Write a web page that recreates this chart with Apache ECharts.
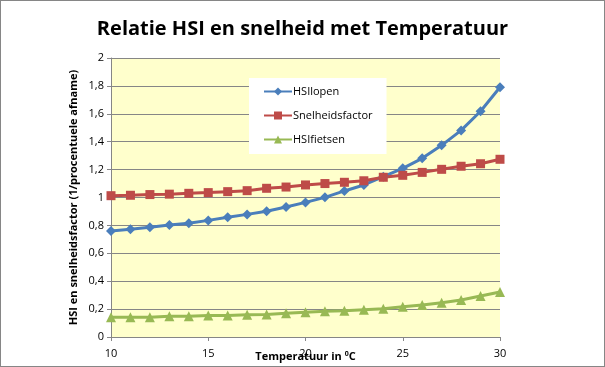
<!DOCTYPE html>
<html><head><meta charset="utf-8">
<script src="https://cdn.jsdelivr.net/npm/echarts@6/dist/echarts.min.js"></script>
<style>html,body{margin:0;padding:0;background:#fff}#c{width:605px;height:367px;box-sizing:border-box;border:1px solid #868686}</style>
</head><body><div id="c"></div>
<script>
const temps = [10,11,12,13,14,15,16,17,18,19,20,21,22,23,24,25,26,27,28,29,30];
const hsiLopen = [0.76,0.772,0.786,0.803,0.815,0.836,0.858,0.879,0.901,0.932,0.965,1.001,1.047,1.09,1.149,1.209,1.281,1.374,1.481,1.618,1.79];
const snelheidsfactor = [1.013,1.016,1.021,1.024,1.030,1.035,1.042,1.049,1.066,1.075,1.09,1.10,1.109,1.12,1.145,1.159,1.18,1.202,1.224,1.242,1.274];
const hsiFietsen = [0.141,0.141,0.141,0.148,0.148,0.155,0.155,0.16,0.162,0.17,0.177,0.184,0.189,0.196,0.203,0.217,0.229,0.246,0.265,0.294,0.323];
const seriesNames = ['HSIlopen','Snelheidsfactor','HSIfietsen'];
const yTicks = [0,0.2,0.4,0.6,0.8,1,1.2,1.4,1.6,1.8,2];

const pair = arr => temps.map((t,i)=>[t,arr[i]]);
const fmt = v => String(Math.round(v*10)/10).replace('.', ',');
const chart = echarts.init(document.getElementById('c'), null, {renderer:'canvas'});
const font = 'Open Sans';
chart.setOption({
  animation:false,
  title:{text:'Relatie HSI en snelheid met Temperatuur', left:'center', top:13,
    textStyle:{fontFamily:font,fontSize:20,fontWeight:'bold',color:'#000'}},
  grid:{left:110,right:104,top:57,bottom:29,show:true,backgroundColor:'#FFFFCC',borderWidth:0,
    outerBoundsMode:'none',containLabel:false},
  legend:{orient:'vertical',left:248,top:77,width:143,height:71,backgroundColor:'#fff',
    padding:[8,14,9,14],itemGap:13,itemWidth:28,itemHeight:10,
    textStyle:{fontFamily:font,fontSize:11,color:'#000',padding:[0,0,0,-4]},
    data:seriesNames},
  xAxis:{type:'value',min:10,max:30,interval:5,
    name:'Temperatuur in {s|0}C',nameLocation:'middle',nameGap:13,nameMoveOverlap:false,
    nameTextStyle:{fontFamily:font,fontSize:11,fontWeight:'bold',color:'#000',
      rich:{s:{fontSize:7,fontWeight:'bold',verticalAlign:'top',padding:[0,0,6,0]}}},
    axisLine:{lineStyle:{color:'#868686'}},
    axisTick:{show:true,length:4,lineStyle:{color:'#868686'}},
    axisLabel:{fontFamily:font,fontSize:11,color:'#000',margin:11},
    splitLine:{show:false}},
  yAxis:{type:'value',min:0,max:2,interval:0.2,
    name:'HSI en snelheidsfactor (1/procentuele afname)',nameLocation:'middle',nameGap:32,nameMoveOverlap:false,
    nameTextStyle:{fontFamily:font,fontSize:11,fontWeight:'bold',color:'#000'},
    axisLine:{show:true,lineStyle:{color:'#868686'}},
    axisTick:{show:true,length:4,lineStyle:{color:'#868686'}},
    axisLabel:{fontFamily:font,fontSize:11,color:'#000',margin:7,formatter:fmt},
    splitLine:{show:true,lineStyle:{color:'#868686',width:1}}},
  series:[
    {name:seriesNames[0],type:'line',data:pair(hsiLopen),symbol:'diamond',symbolSize:10,
      lineStyle:{color:'#4A7EBB',width:3},itemStyle:{color:'#4A7EBB'}},
    {name:seriesNames[1],type:'line',data:pair(snelheidsfactor),symbol:'rect',symbolSize:9,
      lineStyle:{color:'#BE4B48',width:3},itemStyle:{color:'#BE4B48'}},
    {name:seriesNames[2],type:'line',data:pair(hsiFietsen),symbol:'triangle',symbolSize:10,
      lineStyle:{color:'#98B954',width:3},itemStyle:{color:'#98B954'}}
  ]
});
</script></body></html>
